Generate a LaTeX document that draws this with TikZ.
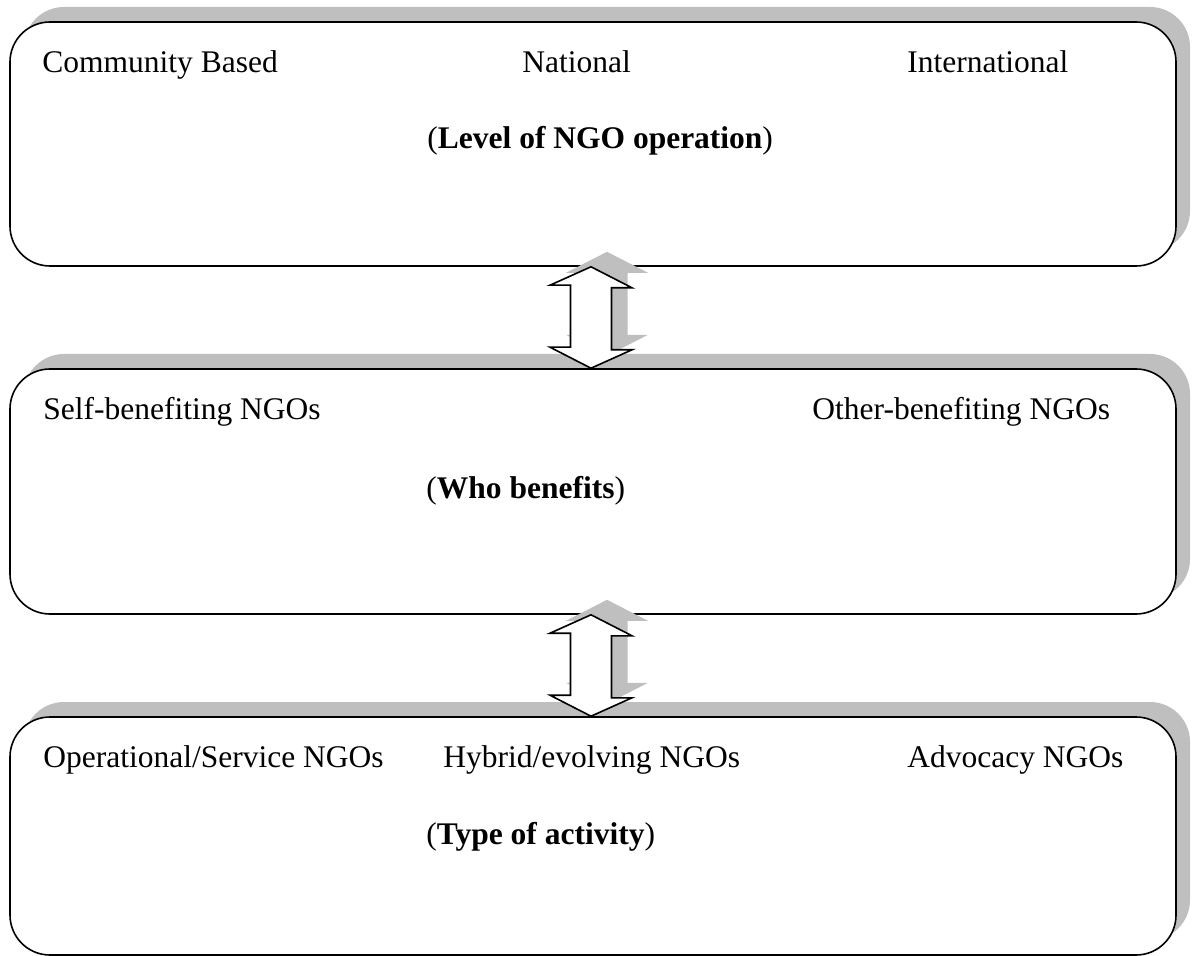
\documentclass[tikz,border=0pt]{standalone}
\usepackage{fontspec}
\setmainfont{Liberation Serif}
\usepackage{tikz}
\usetikzlibrary{shadows}
\colorlet{shadowgray}{black!25}
\tikzstyle{box}=[draw,line width=0.8pt,fill=white,rounded corners=20pt,minimum width=583pt,inner sep=0pt,drop shadow={opacity=1,fill=shadowgray,shadow xshift=7pt,shadow yshift=7.5pt}]
\tikzstyle{arrowline}=[draw,line width=0.8pt,fill=white,line join=miter]
\tikzstyle{lbl}=[anchor=base west,inner sep=0pt]

\begin{document}
\begin{tikzpicture}[x=0.5pt,y=-0.5pt,font=\fontsize{15.75}{19}\selectfont]
	\useasboundingbox (0,0) rectangle (1192,956);
	% the three boxes
	\node[box,minimum height=122pt] (level) at (593,144) {};
	\node[box,minimum height=122.5pt] (benefit) at (593,491.5) {};
	\node[box,minimum height=119pt] (activity) at (593,836) {};
	% double arrows between them, shadow first
	\foreach \a/\b in {level/benefit,benefit/activity}{
		\fill[shadowgray] ([xshift=7pt,yshift=7.5pt]\a.south) -- ++(41,21) -- ++(-20.5,0) -- ++(0,62) -- ++(20.5,0) -- ++(-41,21)
			-- ++(-41,-21) -- ++(20.5,0) -- ++(0,-62) -- ++(-20.5,0) -- cycle;
		\path[arrowline] ([xshift=-1pt]\a.south) -- ++(41,21) -- ++(-20.5,0) -- ++(0,62) -- ++(20.5,0) -- ([xshift=-1pt]\b.north)
			-- ++(-41,-21) -- ++(20.5,0) -- ++(0,-62) -- ++(-20.5,0) -- cycle;
	}
	% level of operation
	\node[lbl] (cbo) at (42,73) {Community Based};
	\node[lbl] (nat) at (522,73) {National};
	\node[lbl] (intl) at (907,73) {International};
	\node[lbl] (levtitle) at (427,149) {(\textbf{Level of NGO operation})};
	% who benefits
	\node[lbl] (self) at (43,420) {Self-benefiting NGOs};
	\node[lbl] (other) at (812,420) {Other-benefiting NGOs};
	\node[lbl] (bentitle) at (426,498) {(\textbf{Who benefits})};
	% type of activity
	\node[lbl] (oper) at (43,767) {Operational/Service NGOs};
	\node[lbl] (hyb) at (443,767) {Hybrid/evolving NGOs};
	\node[lbl] (adv) at (907,767) {Advocacy NGOs};
	\node[lbl] (acttitle) at (426,844) {(\textbf{Type of activity})};
\end{tikzpicture}
\end{document}
